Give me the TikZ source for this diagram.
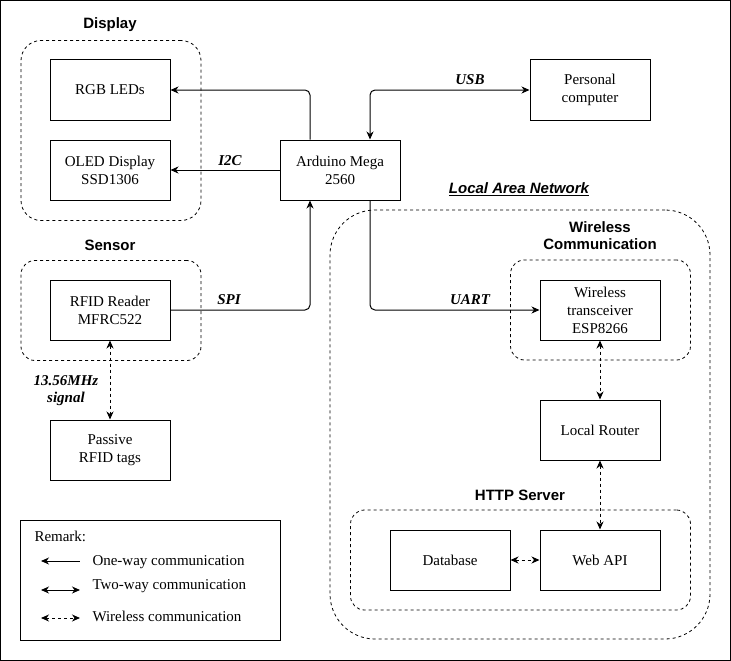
\documentclass[tikz,border=0pt]{standalone}
\usepackage{fontspec}
\setmainfont{Liberation Serif}
\newfontfamily\lsans{Liberation Sans}
\usetikzlibrary{arrows.meta}
\begin{document}
\begin{tikzpicture}[x=1pt,y=-1pt,
  font=\fontsize{15}{18}\selectfont,
  line width=1pt,
  box/.style={draw, line width=1pt, minimum width=120pt, minimum height=60pt, align=center, inner sep=0pt},
  grp/.style={draw, line width=0.8pt, dash pattern=on 3pt off 3pt, rounded corners=#1, inner sep=0pt},
  title/.style={font=\lsans\bfseries\fontsize{15}{17}\selectfont, align=center},
  elabel/.style={font=\bfseries\itshape\fontsize{15}{17}\selectfont, align=center, inner sep=0pt},
  tip/.style={Stealth[length=8pt,width=7pt,inset=2.5pt]},
  onew/.style={-{Stealth[length=8pt,width=7pt,inset=2.5pt]}},
  twow/.style={{Stealth[length=8pt,width=7pt,inset=2.5pt]}-{Stealth[length=8pt,width=7pt,inset=2.5pt]}},
  wless/.style={twow, dash pattern=on 3pt off 3pt},
]
\useasboundingbox (0,0) rectangle (731,661);
\draw[line width=1pt] (0.5,0.5) rectangle (730.5,660.5);

% groups
\node[grp=20, minimum width=180pt, minimum height=180pt] (gdisp) at (111,130.5) {};
\node[grp=14, minimum width=180pt, minimum height=100pt] (gsens) at (111,310.5) {};
\node[grp=45, minimum width=380pt, minimum height=429pt] (glan) at (520,424.5) {};
\node[grp=14, minimum width=180pt, minimum height=100pt] (gwire) at (600.5,310) {};
\node[grp=14, minimum width=340pt, minimum height=100pt] (ghttp) at (520.5,560) {};

% group titles
\node[title] (tdisp) at (110,25) {Display};
\node[title] (tsens) at (110,245) {Sensor};
\node[title] (tlan) at (519,189) {\itshape\underline{Local Area Network}};
\node[title] (twire) at (600,236) {Wireless\\Communication};
\node[title] (thttp) at (520,495) {HTTP Server};

% boxes
\node[box] (rgb) at (110,90) {RGB LEDs};
\node[box] (oled) at (110,170) {OLED Display\\SSD1306};
\node[box] (ard) at (340,170) {Arduino Mega\\2560};
\node[box] (pc) at (590,90) {Personal\\computer};
\node[box] (rfid) at (110,310) {RFID Reader\\MFRC522};
\node[box] (tags) at (110,450) {Passive\\RFID tags};
\node[box] (esp) at (600,310) {Wireless\\transceiver\\ESP8266};
\node[box] (router) at (600,430) {Local Router};
\node[box] (db) at (450,560) {Database};
\node[box] (api) at (600,560) {Web API};

% connectors
\draw[onew, rounded corners=5pt] ([xshift=-30pt]ard.north) |- (rgb.east);
\draw[onew] (ard.west) -- (oled.east);
\node[elabel] (li2c) at (230,161) {I2C};
\draw[twow, rounded corners=5pt] ([xshift=30pt]ard.north) |- (pc.west);
\node[elabel] (lusb) at (470,80) {USB};
\draw[onew, rounded corners=5pt] ([xshift=30pt]ard.south) |- (esp.west);
\node[elabel] (luart) at (470,300) {UART};
\draw[onew, rounded corners=5pt] (rfid.east) -| ([xshift=-30pt]ard.south);
\node[elabel] (lspi) at (229,300) {SPI};
\draw[wless] (rfid.south) -- (tags.north);
\node[elabel] (lsig) at (66,391) {13.56MHz\\signal};
\draw[wless] (esp.south) -- (router.north);
\draw[wless] (router.south) -- (api.north);
\draw[wless] (db.east) -- (api.west);

% legend
\node[draw, line width=1pt, minimum width=260pt, minimum height=120pt, inner sep=0pt] (legend) at (150.5,580) {};
\node[anchor=west, inner sep=0pt] (rem) at (34,536) {Remark:};
\coordinate (a1l) at (41,561); \coordinate (a1r) at (80,561);
\coordinate (a2l) at (41,590); \coordinate (a2r) at (80,590);
\coordinate (a3l) at (41,618); \coordinate (a3r) at (80,618);
\draw[{Stealth[length=8pt,width=7pt,inset=2.5pt]}-] (a1l) -- (a1r);
\draw[twow] (a2l) -- (a2r);
\draw[wless] (a3l) -- (a3r);
\node[anchor=west, inner sep=0pt] (t1) at (92,562) {One-way communication};
\node[anchor=west, inner sep=0pt] (t2) at (92,586) {Two-way communication};
\node[anchor=west, inner sep=0pt] (t3) at (92,616) {Wireless communication};
\end{tikzpicture}
\end{document}
